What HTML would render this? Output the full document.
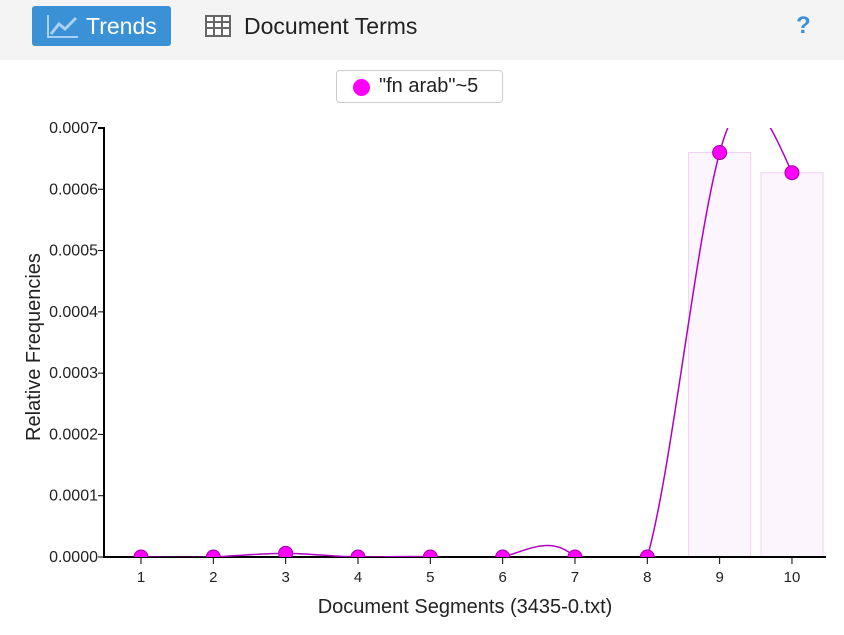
<!DOCTYPE html>
<html><head><meta charset="utf-8"><style>
body{margin:0;width:844px;height:635px;background:#fff;font-family:"Liberation Sans",sans-serif;overflow:hidden;position:relative}
#bar{position:absolute;left:0;top:0;width:844px;height:60px;background:#f4f4f4}
#trends{position:absolute;left:32px;top:6px;width:139px;height:40px;background:#3a91d6;border-radius:3px;color:#fff;font-size:23px;line-height:40px}
#doc{position:absolute;left:205px;top:6px;height:40px;line-height:40px;font-size:23px;color:#222}
#help{position:absolute;left:796px;top:12px;font-size:24px;font-weight:bold;color:#3a91d6}
#legend{position:absolute;left:336px;top:70px;width:165px;height:31px;border:1px solid #ccc;border-radius:4px;font-size:20px;line-height:31px;color:#222}
</style></head><body>
<div id="bar">
<div id="trends"><svg width="34" height="26" style="position:absolute;left:14px;top:7px"><path d="M2 2V24H32" stroke="#a9d0f0" stroke-width="2" fill="none"/><path d="M5 21L13 11L19 16L30 5" stroke="#a9d0f0" stroke-width="3" fill="none"/></svg><span style="position:absolute;left:54px">Trends</span></div>
<div id="doc"><svg width="26" height="22" style="position:absolute;left:0;top:9px"><rect x="1" y="1" width="24" height="20" fill="#fff" stroke="#666" stroke-width="2"/><path d="M1 7H25M1 13H25M9 1V21M17 1V21" stroke="#666" stroke-width="2"/></svg><span style="position:absolute;left:39px;white-space:nowrap">Document Terms</span></div>
<div id="help">?</div>
</div>
<div id="legend"><span style="position:absolute;left:16px;top:8px;width:17px;height:17px;border-radius:50%;background:#f0f"></span><span style="position:absolute;left:42px">"fn arab"~5</span></div>
<svg id="chart" width="844" height="635" style="position:absolute;left:0;top:0"></svg>
<script>
const categories=[1,2,3,4,5,6,7,8,9,10];
const values=[0,0,0.000006,0,0,0,0,0,0.00066,0.000627];
const yTicks=["0.0000","0.0001","0.0002","0.0003","0.0004","0.0005","0.0006","0.0007"];
const barCats=[9,10];
const xLabel="Document Segments (3435-0.txt)";
const yLabel="Relative Frequencies";
const X0=104,X1=826,Y0=557,Y1=128,YMAX=0.0007;
const xs=c=>141+(c-1)*72.33;
const ys=v=>Y0-(v/YMAX)*(Y0-Y1);
const svg=document.getElementById('chart');
const NS="http://www.w3.org/2000/svg";
function mk(t,a,p){const e=document.createElementNS(NS,t);for(const k in a)e.setAttribute(k,a[k]);(p||svg).appendChild(e);return e;}
const defs=mk('defs',{});const cp=mk('clipPath',{id:'cp'},defs);mk('rect',{x:X0,y:Y1,width:X1-X0,height:Y0-Y1},cp);
barCats.forEach(c=>{const v=values[categories.indexOf(c)];
const b=mk('rect',{x:xs(c)-31,y:ys(v),width:62,height:Y0-ys(v),fill:'#fdf5fd',stroke:'#f3d0f3'});

});
mk('path',{d:`M${X0-6} ${Y1}H${X0}V${Y0}H${X1}`,stroke:'#000',fill:'none','stroke-width':2});
yTicks.forEach((t,i)=>{const y=ys(i*0.0001);mk('line',{x1:X0-6,x2:X0,y1:y,y2:y,stroke:'#000'});
const tx=mk('text',{x:X0-6,y:y+5,'text-anchor':'end','font-size':16,fill:'#222'});tx.textContent=t;

});
categories.forEach(c=>{const x=xs(c);mk('line',{x1:x,x2:x,y1:Y0,y2:Y0+7,stroke:'#000'});
const tx=mk('text',{x:x,y:Y0+25,'text-anchor':'middle','font-size':15,fill:'#222'});tx.textContent=c;

});
const xt=mk('text',{x:465,y:613,'text-anchor':'middle','font-size':20,fill:'#222'});xt.textContent=xLabel;


const yt=mk('text',{x:0,y:0,'text-anchor':'middle','font-size':20,fill:'#222',transform:'translate(40,347) rotate(-90)'});yt.textContent=yLabel;


function ctrl(x){const n=x.length-1,a=[],b=[],r=[];let m;a[0]=0;b[0]=2;r[0]=x[0]+2*x[1];
for(let i=1;i<n-1;i++){a[i]=1;b[i]=4;r[i]=4*x[i]+2*x[i+1];}
a[n-1]=2;b[n-1]=7;r[n-1]=8*x[n-1]+x[n];
for(let i=1;i<n;i++){m=a[i]/b[i-1];b[i]-=m;r[i]-=m*r[i-1];}
a[n-1]=r[n-1]/b[n-1];for(let i=n-2;i>=0;i--)a[i]=(r[i]-a[i+1])/b[i];
b[n-1]=(x[n]+a[n-1])/2;for(let i=0;i<n-1;i++)b[i]=2*x[i+1]-a[i+1];return[a,b];}
const px=categories.map(xs),py=values.map(ys);const cx=ctrl(px),cy=ctrl(py);
let d=`M${px[0]},${py[0]}`;for(let i=0;i<px.length-1;i++)d+=`C${cx[0][i]},${cy[0][i]} ${cx[1][i]},${cy[1][i]} ${px[i+1]},${py[i+1]}`;
const ln=mk('path',{d:d,fill:'none',stroke:'#b000c0','stroke-width':1.5,'clip-path':'url(#cp)'});


const g=mk('g',{'clip-path':'url(#cp)'});
categories.forEach((c,i)=>{const p=mk('circle',{cx:xs(c),cy:ys(values[i]),r:7,fill:'#f0f',stroke:'#a000a0','stroke-width':1},g);

});
</script>
</body></html>
